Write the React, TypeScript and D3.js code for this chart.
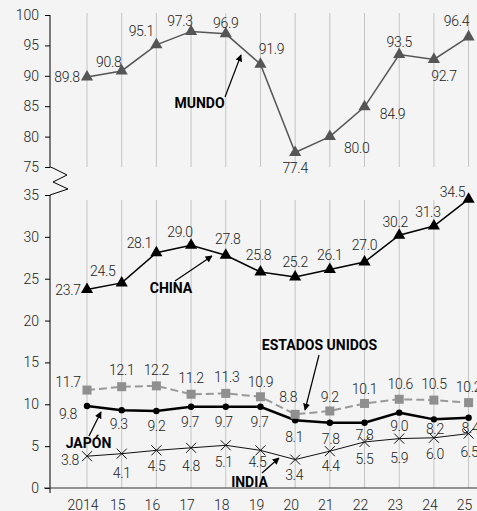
import { useEffect, useRef } from 'react';
import * as d3 from 'd3';

const years = ['2014', '15', '16', '17', '18', '19', '20', '21', '22', '23', '24', '25'];
const mundo = [89.8, 90.8, 95.1, 97.3, 96.9, 91.9, 77.4, 80.0, 84.9, 93.5, 92.7, 96.4];
const china = [23.7, 24.5, 28.1, 29.0, 27.8, 25.8, 25.2, 26.1, 27.0, 30.2, 31.3, 34.5];
const eeuu = [11.7, 12.1, 12.2, 11.2, 11.3, 10.9, 8.8, 9.2, 10.1, 10.6, 10.5, 10.2];
const japon = [9.8, 9.3, 9.2, 9.7, 9.7, 9.7, 8.1, 7.8, 7.8, 9.0, 8.2, 8.4];
const india = [3.8, 4.1, 4.5, 4.8, 5.1, 4.5, 3.4, 4.4, 5.5, 5.9, 6.0, 6.5];
const topTicks = [75, 80, 85, 90, 95, 100];
const bottomTicks = [0, 5, 10, 15, 20, 25, 30, 35];

// label offsets (dx, dy) from each point
const mundoLbl = [[-20, 0], [-13, -9], [-15, -14], [-11, -10], [0, -11], [11, -15], [0, 16], [27, 11], [28, 7], [0, -13], [10, 17], [-12, -16]];
const chinaLbl = [[-19, 0], [-19, -12], [-17, -10], [-11, -13], [2, -16], [-2, -17], [0, -15], [0, -15], [0, -17], [-4, -13], [-6, -14], [-16, -7]];
const eeuuLbl = [[-19, -8], [0, -17], [0, -16], [0, -16], [1, -16], [0, -15], [-7, -17], [0, -14], [0, -14], [1, -15], [0, -16], [0, -16]];
const japonLbl = [[-19, 8], [-3, 14], [0, 15], [-1, 15], [-2, 15], [-1, 15], [-1, 17], [1, 16], [0, 12], [0, 13], [1, 10], [2, 10]];
const indiaLbl = [[-17, 4], [0, 19], [0, 16], [0, 18], [-2, 17], [-3, 12], [-1, 15], [1, 15], [0, 17], [0, 19], [1, 16], [1, 18]];

const W = 477;
const H = 511;
const FONT = 'Roboto, "Liberation Sans", sans-serif';

export default function App() {
  const svgRef = useRef<SVGSVGElement>(null);

  useEffect(() => {
    if (!svgRef.current) return;
    const svg = d3.select(svgRef.current);
    svg.selectAll('*').remove();
    svg.attr('width', W).attr('height', H);

    svg.append('rect').attr('width', W).attr('height', H).attr('fill', '#f4f4f4');

    const defs = svg.append('defs');
    defs.append('marker')
      .attr('id', 'arrow')
      .attr('viewBox', '0 0 10 10')
      .attr('refX', 9)
      .attr('refY', 5)
      .attr('markerWidth', 7)
      .attr('markerHeight', 7)
      .attr('markerUnits', 'userSpaceOnUse')
      .attr('orient', 'auto')
      .append('path')
      .attr('d', 'M0,0 L10,5 L0,10 Z')
      .attr('fill', '#000');

    const axisX = 50;
    const x = d3.scalePoint<string>().domain(years).range([87, 468.6]);
    const yTop = d3.scaleLinear().domain([75, 100]).range([167, 15]);
    const yBot = d3.scaleLinear().domain([0, 35]).range([488, 195]);

    // vertical grid lines
    const grid = svg.append('g');
    years.forEach(yr => {
      grid.append('line')
        .attr('x1', x(yr)!).attr('x2', x(yr)!)
        .attr('y1', 13).attr('y2', 167)
        .attr('stroke', '#c4c4c4').attr('stroke-width', 1);
      grid.append('line')
        .attr('x1', x(yr)!).attr('x2', x(yr)!)
        .attr('y1', 200).attr('y2', 488)
        .attr('stroke', '#c4c4c4').attr('stroke-width', 1);
    });

    // Y axes
    const styleAxis = (g: d3.Selection<SVGGElement, unknown, null, undefined>) => {
      g.select('.domain').remove();
      g.selectAll('line').attr('stroke', '#000').attr('stroke-width', 1);
      g.selectAll('text')
        .style('font-family', FONT)
        .style('font-size', '14px')
        .style('font-weight', '300')
        .style('fill', '#222');
    };
    svg.append('g')
      .attr('transform', `translate(${axisX},0)`)
      .call(d3.axisLeft(yTop).tickValues(topTicks).tickSize(5).tickPadding(6).tickSizeOuter(0))
      .call(styleAxis);
    svg.append('g')
      .attr('transform', `translate(${axisX},0)`)
      .call(d3.axisLeft(yBot).tickValues(bottomTicks).tickSize(5).tickPadding(6).tickSizeOuter(0))
      .call(styleAxis);

    svg.append('line')
      .attr('x1', axisX).attr('x2', axisX)
      .attr('y1', yTop(100)).attr('y2', yTop(75))
      .attr('stroke', '#000');
    svg.append('line')
      .attr('x1', axisX).attr('x2', axisX)
      .attr('y1', yBot(35)).attr('y2', 493)
      .attr('stroke', '#000');
    // break zigzag
    svg.append('path')
      .attr('d', `M${axisX},${yTop(75)} L53,168 L67,175 L53,182 L68,189 L${axisX},${yBot(35)}`)
      .attr('fill', 'none')
      .attr('stroke', '#000')
      .attr('stroke-width', 1);

    // X axis
    svg.append('line')
      .attr('x1', 44).attr('x2', W)
      .attr('y1', yBot(0)).attr('y2', yBot(0))
      .attr('stroke', '#333').attr('stroke-width', 1.2);
    svg.append('g')
      .selectAll('text')
      .data(years)
      .join('text')
      .attr('x', d => x(d)! - 4)
      .attr('y', 510)
      .attr('text-anchor', 'middle')
      .style('font-family', FONT)
      .style('font-size', '14px')
      .style('font-weight', '300')
      .style('fill', '#222')
      .text(d => d);

    const labels = (vals: number[], offs: number[][], y: d3.ScaleLinear<number, number>) => {
      svg.append('g')
        .selectAll('text')
        .data(vals)
        .join('text')
        .attr('x', (d, i) => x(years[i])! + offs[i][0])
        .attr('y', (d, i) => y(d) + offs[i][1])
        .attr('text-anchor', 'middle')
        .attr('dominant-baseline', 'central')
        .style('font-family', FONT)
        .style('font-size', '14px')
        .style('font-weight', '300')
        .style('letter-spacing', '-0.3px')
        .style('fill', '#222')
        .text(d => d.toFixed(1));
    };

    const lineOf = (y: d3.ScaleLinear<number, number>) =>
      d3.line<number>().x((d, i) => x(years[i])!).y(d => y(d));

    const tri = d3.symbol().type(d3.symbolTriangle).size(64);

    // MUNDO
    svg.append('path').datum(mundo)
      .attr('d', lineOf(yTop))
      .attr('fill', 'none').attr('stroke', '#555').attr('stroke-width', 1.5);
    svg.append('g').selectAll('path').data(mundo).join('path')
      .attr('d', tri()!)
      .attr('transform', (d, i) => `translate(${x(years[i])},${yTop(d)})`)
      .attr('fill', '#555');
    labels(mundo, mundoLbl, yTop);

    // INDIA
    svg.append('path').datum(india)
      .attr('d', lineOf(yBot))
      .attr('fill', 'none').attr('stroke', '#111').attr('stroke-width', 1);
    svg.append('g').selectAll('path').data(india).join('path')
      .attr('d', 'M-5,-5L5,5M-5,5L5,-5')
      .attr('transform', (d, i) => `translate(${x(years[i])},${yBot(d)})`)
      .attr('stroke', '#111').attr('stroke-width', 1).attr('fill', 'none');
    labels(india, indiaLbl, yBot);

    // JAPON
    svg.append('path').datum(japon)
      .attr('d', lineOf(yBot))
      .attr('fill', 'none').attr('stroke', '#000').attr('stroke-width', 2.5);
    svg.append('g').selectAll('circle').data(japon).join('circle')
      .attr('cx', (d, i) => x(years[i])!)
      .attr('cy', d => yBot(d))
      .attr('r', 3.2)
      .attr('fill', '#000');
    labels(japon, japonLbl, yBot);

    // ESTADOS UNIDOS
    svg.append('path').datum(eeuu)
      .attr('d', lineOf(yBot))
      .attr('fill', 'none').attr('stroke', '#999').attr('stroke-width', 2)
      .attr('stroke-dasharray', '8,4');
    svg.append('g').selectAll('rect').data(eeuu).join('rect')
      .attr('x', (d, i) => x(years[i])! - 4.5)
      .attr('y', d => yBot(d) - 4.5)
      .attr('width', 9).attr('height', 9)
      .attr('fill', '#8f8f8f');
    labels(eeuu, eeuuLbl, yBot);

    // CHINA
    svg.append('path').datum(china)
      .attr('d', lineOf(yBot))
      .attr('fill', 'none').attr('stroke', '#000').attr('stroke-width', 1.5);
    svg.append('g').selectAll('path').data(china).join('path')
      .attr('d', tri()!)
      .attr('transform', (d, i) => `translate(${x(years[i])},${yBot(d)})`)
      .attr('fill', '#000');
    labels(china, chinaLbl, yBot);

    // series names with arrows
    const names: [string, number, number, number, number, number, number][] = [
      ['MUNDO', 199.5, 103, 225, 97, 241, 55],
      ['CHINA', 171, 288, 175, 281, 212, 256],
      ['ESTADOS UNIDOS', 319.5, 345, 319, 355, 305, 410],
      ['JAPÓN', 88.5, 443, 89, 436, 101, 412],
      ['INDIA', 249.5, 482, 262, 473, 279, 458],
    ];
    names.forEach(([t, tx, ty, x1, y1, x2, y2]) => {
      svg.append('line')
        .attr('x1', x1).attr('y1', y1).attr('x2', x2).attr('y2', y2)
        .attr('stroke', '#000').attr('stroke-width', 1.2)
        .attr('marker-end', 'url(#arrow)');
      svg.append('text')
        .attr('x', tx).attr('y', ty)
        .attr('text-anchor', 'middle')
        .attr('dominant-baseline', 'central')
        .style('font-family', FONT)
        .style('font-size', '14px')
        .style('font-weight', '700')
        .style('fill', '#000')
        .text(t);
    });
  }, []);

  return (
    <div style={{ position: 'absolute', left: 0, top: 0, width: W, height: H }}>
      <svg ref={svgRef} />
    </div>
  );
}
